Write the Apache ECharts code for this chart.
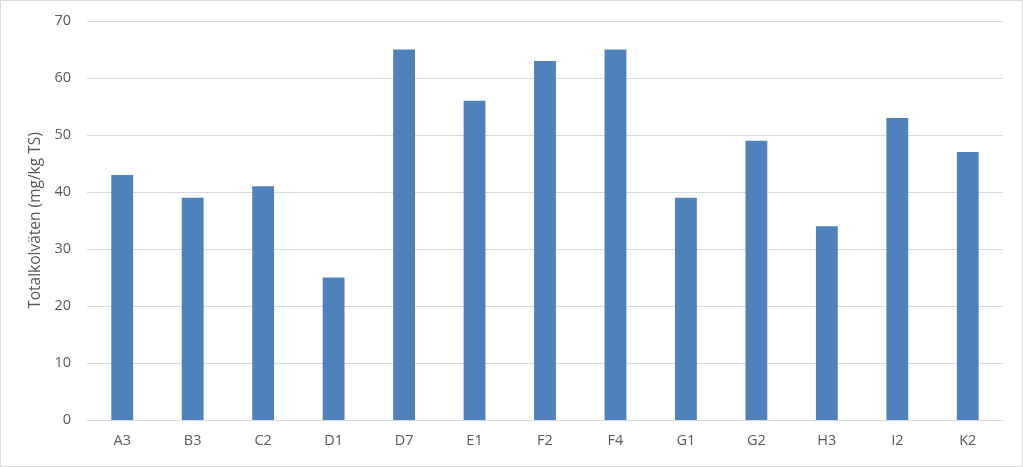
<!DOCTYPE html>
<html><head><meta charset="utf-8">
<script src="https://cdn.jsdelivr.net/npm/echarts@6/dist/echarts.min.js"></script>
<style>html,body{margin:0;padding:0;background:#fff}#c{width:1023px;height:467px;box-sizing:border-box;border:1px solid #d9d9d9}</style>
</head><body><div id="c"></div>
<script>
const categories = ['A3','B3','C2','D1','D7','E1','F2','F4','G1','G2','H3','I2','K2'];
const values = [43,39,41,25,65,56,63,65,39,49,34,53,47];
const yTitle = 'Totalkolväten (mg/kg TS)';
const chart = echarts.init(document.getElementById('c'), null, {renderer:'canvas'});
const font = 'Open Sans, Liberation Sans, sans-serif';
chart.setOption({
  animation:false,
  grid:{left:86,right:19,top:20,bottom:46},
  xAxis:{type:'category',data:categories,
    axisLine:{lineStyle:{color:'#d9d9d9'}},axisTick:{show:false},
    axisLabel:{color:'#595959',fontSize:14.5,fontFamily:font,margin:13}},
  yAxis:{type:'value',min:0,max:70,interval:10,
    name:yTitle,nameLocation:'middle',nameGap:43,
    nameTextStyle:{color:'#595959',fontSize:15.5,fontFamily:font},
    axisLine:{show:false},axisTick:{show:false},
    splitLine:{lineStyle:{color:'#d9d9d9'}},
    axisLabel:{color:'#595959',fontSize:14.5,fontFamily:font,margin:16}},
  series:[{type:'bar',data:values,barWidth:'31%',itemStyle:{color:'#4f81bd'}}]
});
</script></body></html>
